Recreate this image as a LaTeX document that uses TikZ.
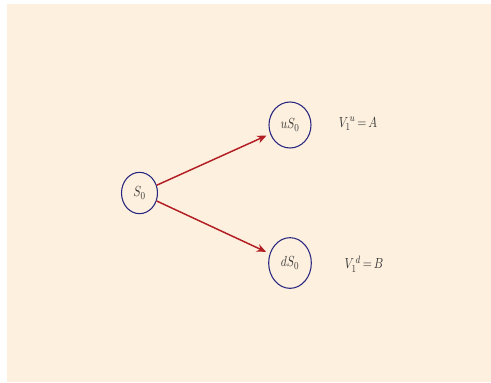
\documentclass[tikz,border=0pt]{standalone}
\usepackage{amsmath,amssymb}
\usepackage{graphicx}
\usepackage{xcolor}
\usepackage{tikz}
\usetikzlibrary{arrows.meta,positioning,shapes.geometric}
\definecolor{paper}{RGB}{253,240,222}
\definecolor{ringblue}{RGB}{40,38,128}
\definecolor{arrowred}{RGB}{178,30,36}
\definecolor{inkgray}{RGB}{55,55,55}
\newcommand{\slim}[1]{\scalebox{0.8}[1]{#1}}

\begin{document}
\begin{tikzpicture}[x=0.75pt, y=-0.75pt,
  state/.style={ellipse, draw=ringblue, line width=0.8pt, inner sep=0pt, text=inkgray, font=\fontsize{11}{13}\selectfont},
  move/.style={-{Stealth[length=7pt,width=6pt]}, draw=arrowred, fill=arrowred, line width=1.1pt, shorten >=3pt},
  lab/.style={text=inkgray, font=\fontsize{11}{13}\selectfont}
]
\useasboundingbox (0,0) rectangle (491,382);
\fill[paper] (7,4) rectangle (491,382);
% tree nodes
\node[state, minimum width=27pt, minimum height=31pt] (S0) at (139.5,193) {\slim{$S_0$}};
\node[state, minimum width=31.5pt, minimum height=34.5pt] (uS0) at (290,125) {\slim{$uS_0$}};
\node[state, minimum width=32pt, minimum height=38pt] (dS0) at (290,263) {\slim{$dS_0$}};
% payoffs
\node[lab] (Vu) at (358,124) {\slim{$V_1^{\,u}\,{=}\,A$}};
\node[lab] (Vd) at (364,264) {\slim{$V_1^{\,d}\,{=}\,B$}};
% branches
\foreach \t in {uS0,dS0} {
  \draw[move] (S0) -- (\t);
}
\end{tikzpicture}
\end{document}
